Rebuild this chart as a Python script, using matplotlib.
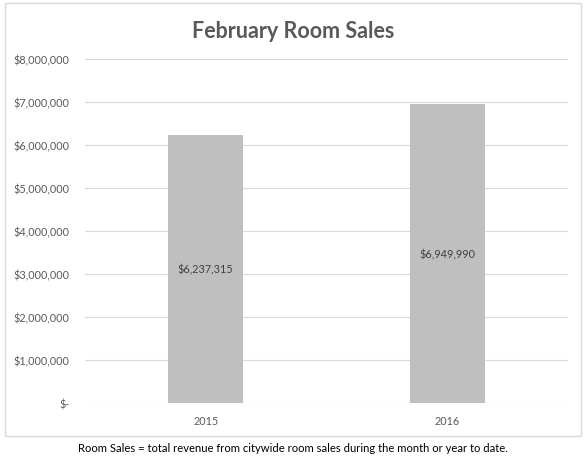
import matplotlib
matplotlib.use("Agg")
import matplotlib.pyplot as plt
from matplotlib.patches import Rectangle
from matplotlib.ticker import FuncFormatter

years = ["2015", "2016"]
sales = [6237315, 6949990]
y_ticks = [0, 1000000, 2000000, 3000000, 4000000, 5000000, 6000000, 7000000, 8000000]

plt.rcParams["font.family"] = ["Lato", "DejaVu Sans"]

fig = plt.figure(figsize=(5.86, 4.64), dpi=100)
fig.patch.set_facecolor("white")

# chart border
fig.patches.append(Rectangle((5 / 586, 1 - 437 / 464), 576 / 586, 433 / 464,
                             transform=fig.transFigure, fill=False,
                             edgecolor="#D9D9D9", linewidth=1))

ax = fig.add_axes([85 / 586, 1 - 404 / 464, 483 / 586, 344 / 464])
x = range(len(years))
bars = ax.bar(x, sales, width=0.31, color="#BFBFBF", zorder=2)

for b, v in zip(bars, sales):
    ax.text(b.get_x() + b.get_width() / 2, v / 2, "${:,}".format(v),
            ha="center", va="center", fontsize=7.8, color="#404040")

ax.set_xlim(-0.5, 1.5)
ax.set_ylim(0, 8000000)
ax.set_yticks(y_ticks)
ax.yaxis.set_major_formatter(FuncFormatter(lambda v, p: "$-" if v == 0 else "${:,.0f}".format(v)))
ax.set_xticks(list(x))
ax.set_xticklabels(years)
ax.grid(axis="y", color="#D9D9D9", linewidth=0.8, zorder=0)
for s in ax.spines.values():
    s.set_visible(False)
ax.tick_params(length=0, labelsize=7.8, labelcolor="#595959")
ax.tick_params(axis="y", pad=11)
ax.tick_params(axis="x", pad=9)

fig.text(0.5, 1 - 31 / 464, "February Room Sales", ha="center", va="center",
         fontsize=15.5, fontweight="bold", color="#595959")
fig.text(0.5, 1 - 449 / 464, "Room Sales = total revenue from citywide room sales during the month or year to date.",
         ha="center", va="center", fontsize=8.1, color="black")

fig.savefig("out.png", dpi=100)
